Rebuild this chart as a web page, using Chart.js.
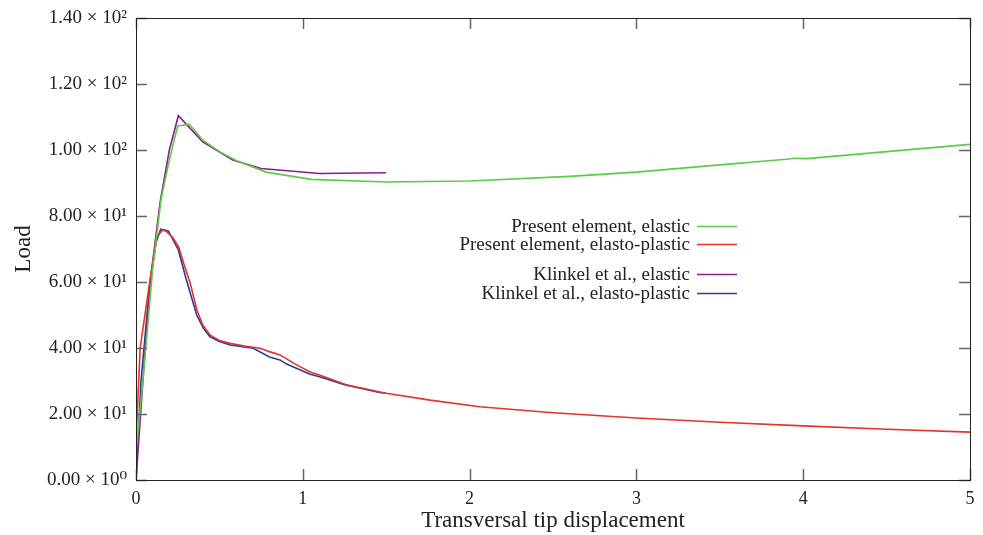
<!DOCTYPE html>
<html lang="en">
<head>
    <meta charset="UTF-8">
    <title>Load vs. transversal tip displacement</title>
    <script src="https://cdn.jsdelivr.net/npm/chart.js"></script>
    <style>
        html, body {
            margin: 0;
            padding: 0;
            background: #ffffff;
        }
        #wrap {
            width: 983px;
            height: 535px;
        }
    </style>
</head>
<body>
    <div id="wrap"><canvas id="loadChart" width="983" height="535"></canvas></div>

    <script>
        // Present element, elastic
        const elasticX = [0, 0.05, 0.1, 0.15, 0.2, 0.25, 0.32, 0.4, 0.5, 0.6, 0.78, 1.05, 1.5, 2.0, 2.6, 3.0, 3.5, 3.9, 3.95, 4.02, 4.5, 5.0];
        const elasticY = [8, 35, 64, 85, 97, 107.3, 107.8, 103, 99.5, 96.8, 93.3, 91.1, 90.3, 90.6, 92, 93.3, 95.5, 97.2, 97.5, 97.4, 99.5, 101.7];

        // Present element, elasto-plastic
        const plasticX = [0, 0.025, 0.085, 0.125, 0.16, 0.185, 0.22, 0.255, 0.29, 0.325, 0.365, 0.4, 0.445, 0.5, 0.565, 0.65, 0.745, 0.8, 0.863, 0.945, 1.04, 1.1, 1.263, 1.5, 1.763, 2.06, 2.5, 3.0, 3.5, 4.0, 4.5, 5.0];
        const plasticY = [12, 40, 61, 73.7, 75.8, 75.2, 73.5, 70.7, 65, 59.6, 51.5, 47, 43.9, 42.3, 41.4, 40.6, 39.9, 38.9, 37.9, 35.4, 32.8, 31.8, 28.8, 26.3, 24.2, 22.2, 20.4, 18.8, 17.5, 16.4, 15.4, 14.5];

        // Klinkel et al., elastic
        const klinkelElX = [0, 0.08, 0.144, 0.2, 0.254, 0.4, 0.58, 0.75, 1.1, 1.5];
        const klinkelElY = [0, 58, 84, 100, 110.4, 102.5, 97, 94.4, 92.9, 93.1];

        // Klinkel et al., elasto-plastic
        const klinkelPlX = [0, 0.03, 0.08, 0.12, 0.148, 0.194, 0.22, 0.254, 0.3, 0.364, 0.404, 0.444, 0.5, 0.564, 0.703, 0.8, 0.863, 0.9, 1.04, 1.1, 1.25, 1.46, 1.5];
        const klinkelPlY = [0, 30, 58, 72, 76, 75.5, 73, 69.7, 61, 50, 46, 43.4, 42, 40.9, 39.9, 37.3, 36.4, 35.2, 32.1, 31.3, 28.9, 26.5, 26.3];

        const xTicks = [0, 1, 2, 3, 4, 5];
        const yTicks = [0, 20, 40, 60, 80, 100, 120, 140];
        const yTickLabels = ['0.00 × 10⁰', '2.00 × 10¹', '4.00 × 10¹', '6.00 × 10¹', '8.00 × 10¹',
                             '1.00 × 10²', '1.20 × 10²', '1.40 × 10²'];

        const FONT = '"Liberation Serif", "DejaVu Serif", serif';

        function points(xs, ys) {
            return xs.map((x, i) => ({ x: x, y: ys[i] }));
        }

        // Rahmen mit nach innen zeigenden Ticks auf allen vier Seiten
        const framePlugin = {
            id: 'frame',
            afterDatasetsDraw(chart) {
                const ctx = chart.ctx;
                const a = chart.chartArea;
                const xs = chart.scales.x, ys = chart.scales.y;
                const len = 11;
                ctx.save();
                ctx.strokeStyle = '#666666';
                ctx.lineWidth = 1.5;
                ctx.beginPath();
                xTicks.forEach(v => {
                    const px = Math.round(xs.getPixelForValue(v)) + 0.5;
                    ctx.moveTo(px, a.bottom); ctx.lineTo(px, a.bottom - len);
                    ctx.moveTo(px, a.top); ctx.lineTo(px, a.top + len);
                });
                yTicks.forEach(v => {
                    const py = Math.round(ys.getPixelForValue(v)) + 0.5;
                    ctx.moveTo(a.left, py); ctx.lineTo(a.left + len, py);
                    ctx.moveTo(a.right, py); ctx.lineTo(a.right - len, py);
                });
                ctx.stroke();
                ctx.strokeStyle = '#222222';
                ctx.lineWidth = 1;
                ctx.strokeRect(Math.round(a.left) + 0.5, Math.round(a.top) + 0.5,
                               Math.round(a.right - a.left), Math.round(a.bottom - a.top));
                ctx.restore();
            }
        };

        // Legende rechtsbündig mit Linienmuster rechts vom Text
        const legendPlugin = {
            id: 'sideLegend',
            afterDraw(chart) {
                const ctx = chart.ctx;
                const a = chart.chartArea;
                const textRight = a.left + 554;
                const rowY = [227, 245, 275, 294];
                ctx.save();
                ctx.font = '19px ' + FONT;
                ctx.fillStyle = '#222222';
                ctx.textAlign = 'right';
                ctx.textBaseline = 'middle';
                chart.data.datasets.forEach((ds, i) => {
                    const y = rowY[i];
                    ctx.fillText(ds.label, textRight, y);
                    ctx.strokeStyle = ds.borderColor;
                    ctx.lineWidth = 1.6;
                    ctx.beginPath();
                    ctx.moveTo(textRight + 7, y - 0.5);
                    ctx.lineTo(textRight + 47, y - 0.5);
                    ctx.stroke();
                });
                ctx.restore();
            }
        };

        const ctx = document.getElementById('loadChart').getContext('2d');
        new Chart(ctx, {
            type: 'line',
            data: {
                datasets: [
                    {
                        label: 'Present element, elastic',
                        data: points(elasticX, elasticY),
                        borderColor: '#5cc94a'
                    },
                    {
                        label: 'Present element, elasto-plastic',
                        data: points(plasticX, plasticY),
                        borderColor: '#e4322a'
                    },
                    {
                        label: 'Klinkel et al., elastic',
                        data: points(klinkelElX, klinkelElY),
                        borderColor: '#8c1c8c'
                    },
                    {
                        label: 'Klinkel et al., elasto-plastic',
                        data: points(klinkelPlX, klinkelPlY),
                        borderColor: '#2b3d9c'
                    }
                ].map(ds => Object.assign(ds, {
                    borderWidth: 1.6,
                    pointRadius: 0,
                    tension: 0,
                    fill: false
                }))
            },
            plugins: [framePlugin, legendPlugin],
            options: {
                responsive: false,
                animation: false,
                layout: {
                    padding: { left: 0, right: 13, top: 18, bottom: 0 }
                },
                plugins: {
                    legend: { display: false },
                    tooltip: { enabled: false }
                },
                scales: {
                    x: {
                        type: 'linear',
                        min: 0,
                        max: 5,
                        afterFit: s => { s.height = 55; s.paddingLeft = 0; s.paddingRight = 0; },
                        afterBuildTicks: s => { s.ticks = xTicks.map(v => ({ value: v })); },
                        grid: { display: false, drawTicks: false },
                        border: { display: false },
                        ticks: {
                            padding: 8,
                            color: '#222222',
                            font: { family: FONT, size: 18 },
                            maxRotation: 0
                        },
                        title: {
                            display: true,
                            text: 'Transversal tip displacement',
                            color: '#222222',
                            font: { family: FONT, size: 23 },
                            padding: { top: 0, bottom: 0 }
                        }
                    },
                    y: {
                        type: 'linear',
                        min: 0,
                        max: 140,
                        afterFit: s => { s.width = 136; s.paddingTop = 0; s.paddingBottom = 0; },
                        afterBuildTicks: s => { s.ticks = yTicks.map(v => ({ value: v })); },
                        grid: { display: false, drawTicks: false },
                        border: { display: false },
                        ticks: {
                            padding: 9,
                            color: '#222222',
                            font: { family: FONT, size: 19 },
                            callback: (v) => yTickLabels[yTicks.indexOf(v)]
                        },
                        title: {
                            display: true,
                            text: 'Load',
                            color: '#222222',
                            font: { family: FONT, size: 23 },
                            padding: { top: 10, bottom: 0 }
                        }
                    }
                }
            }
        });
    </script>
</body>
</html>
